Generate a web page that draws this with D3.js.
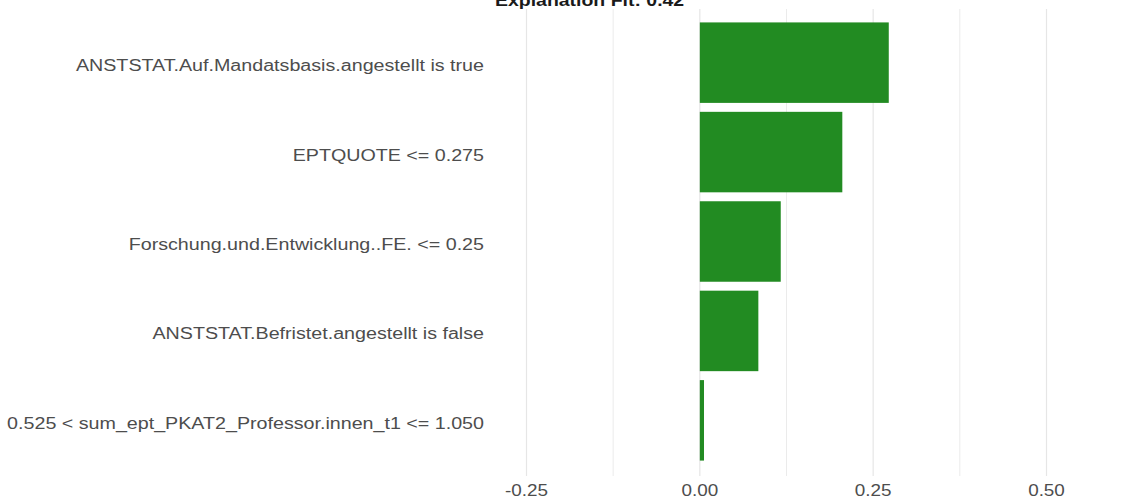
<!DOCTYPE html>
<html>
<head>
<meta charset="utf-8">
<script src="https://cdn.jsdelivr.net/npm/d3@7/dist/d3.min.js"></script>
<style>
  html, body { margin: 0; padding: 0; background: #fff; }
  svg { display: block; }
  text { font-family: "Liberation Sans", Arial, sans-serif; }
</style>
</head>
<body>
<svg id="chart" width="1127" height="504"></svg>
<script>
const title = "Explanation Fit: 0.42";
const features = [
  "ANSTSTAT.Auf.Mandatsbasis.angestellt is true",
  "EPTQUOTE <= 0.275",
  "Forschung.und.Entwicklung..FE. <= 0.25",
  "ANSTSTAT.Befristet.angestellt is false",
  "0.525 < sum_ept_PKAT2_Professor.innen_t1 <= 1.050"
];
const weights = [0.2725, 0.2055, 0.1167, 0.0844, 0.006];
const majorTicks = [-0.25, 0, 0.25, 0.5];
const minorTicks = [-0.125, 0.125, 0.375];
const tickLabels = ["-0.25", "0.00", "0.25", "0.50"];

const svg = d3.select("#chart");
const stretchY = 1.23;
const stretchX = 1.18;

const panel = { left: 492, right: 1122, top: 9, bottom: 476 };

const x = d3.scaleLinear().domain([-0.25, 0.5]).range([526.5, 1046.5]);
const y = d3.scaleBand().domain(features)
  .range([9, 474]).paddingInner(0.1).paddingOuter(0.15);

// grid
svg.append("g").selectAll("line.minor").data(minorTicks).join("line")
  .attr("x1", d => x(d)).attr("x2", d => x(d))
  .attr("y1", panel.top).attr("y2", panel.bottom)
  .attr("stroke", "#ebebeb").attr("stroke-width", 1);
svg.append("g").selectAll("line.major").data(majorTicks).join("line")
  .attr("x1", d => x(d)).attr("x2", d => x(d))
  .attr("y1", panel.top).attr("y2", panel.bottom)
  .attr("stroke", "#e6e6e6").attr("stroke-width", 1.2);

// bars
svg.append("g").selectAll("rect").data(features).join("rect")
  .attr("x", (d, i) => Math.min(x(0), x(weights[i])))
  .attr("width", (d, i) => Math.abs(x(weights[i]) - x(0)))
  .attr("y", d => y(d))
  .attr("height", y.bandwidth())
  .attr("fill", "#228B22");

// y labels
const yl = svg.append("g").selectAll("g").data(features).join("g")
  .attr("transform", d => `translate(484,${y(d) + y.bandwidth() / 2 + 8.5}) scale(${stretchY},1)`);
yl.append("text").attr("text-anchor", "end").attr("font-size", 16)
  .attr("fill", "#4d4d4d").text(d => d);

// x axis labels
const xl = svg.append("g").selectAll("g").data(majorTicks).join("g")
  .attr("transform", d => `translate(${x(d)},496) scale(${stretchX},1)`);
xl.append("text").attr("text-anchor", "middle").attr("font-size", 16)
  .attr("fill", "#4d4d4d").text((d, i) => tickLabels[i]);

// title
svg.append("g").attr("transform", `translate(495,6) scale(${stretchX},1)`)
  .append("text").attr("font-size", 16.5).attr("font-weight", "bold")
  .attr("fill", "#1a1a1a").text(title);
</script>
</body>
</html>
